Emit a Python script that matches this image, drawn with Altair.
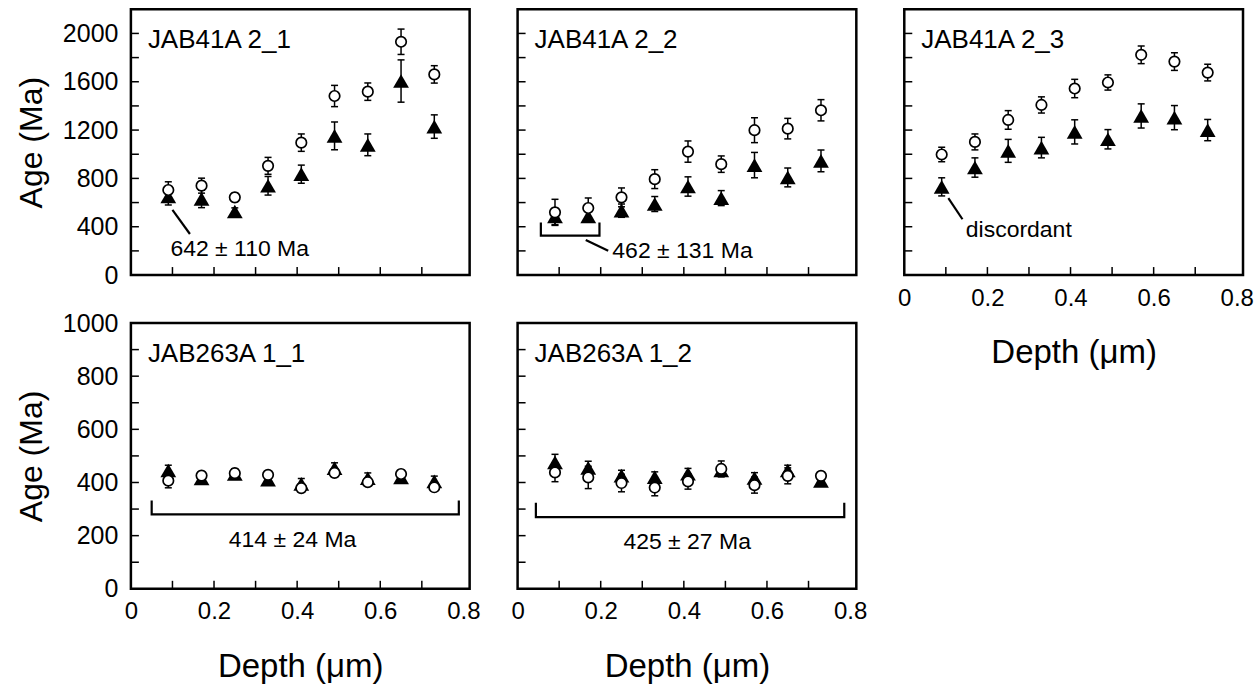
import altair as alt
import pandas as pd

FONT = "Liberation Sans"

# ---------------- data ----------------
depth = [0.09, 0.17, 0.25, 0.33, 0.41, 0.49, 0.57, 0.65, 0.73]

p1_name = "JAB41A 2_1"
p1_circ = [704, 740, 643, 904, 1096, 1482, 1518, 1931, 1661]
p1_circ_err = [68, 62, 35, 70, 72, 88, 72, 105, 72]
p1_tri = [650, 630, 526, 739, 835, 1152, 1078, 1606, 1229]
p1_tri_err = [70, 72, 30, 77, 75, 115, 90, 175, 97]

p2_name = "JAB41A 2_2"
p2_circ = [519, 555, 643, 794, 1022, 918, 1199, 1212, 1364]
p2_circ_err = [108, 83, 78, 78, 88, 68, 103, 85, 88]
p2_tri = [485, 485, 533, 588, 733, 637, 910, 808, 945]
p2_tri_err = [68, 45, 55, 62, 80, 62, 105, 78, 90]

p3_name = "JAB41A 2_3"
p3_circ = [998, 1102, 1284, 1408, 1544, 1594, 1823, 1767, 1676]
p3_circ_err = [60, 66, 77, 67, 76, 63, 73, 73, 69]
p3_tri = [730, 890, 1028, 1055, 1185, 1124, 1317, 1303, 1200]
p3_tri_err = [75, 80, 95, 85, 100, 80, 100, 100, 88]

p4_name = "JAB263A 1_1"
p4_circ = [407, 426, 435, 429, 379, 436, 401, 432, 382]
p4_circ_err = [27, 15, 15, 15, 15, 15, 15, 15, 15]
p4_tri = [445, 415, 432, 411, 395, 454, 416, 419, 404]
p4_tri_err = [20, 20, 20, 20, 20, 20, 20, 20, 20]

p5_name = "JAB263A 1_2"
p5_circ = [438, 419, 398, 381, 404, 451, 390, 425, 425]
p5_circ_err = [35, 42, 33, 31, 29, 30, 30, 30, 15]
p5_tri = [476, 455, 426, 420, 433, 445, 417, 445, 406]
p5_tri_err = [30, 25, 20, 20, 20, 20, 20, 20, 15]

# annotations: leader lines / brackets and labels
p1_line_x = [0.100, 0.142]
p1_line_y = [539, 340]
p1_label = "642 ± 110 Ma"
p1_label_xy = [0.095, 216]
p1_label_align = "left"

p2_line_x = [0.056, 0.056, 0.197, 0.197, None, 0.164, 0.218]
p2_line_y = [436, 326, 326, 436, None, 291, 202]
p2_label = "462 ± 131 Ma"
p2_label_xy = [0.228, 202]
p2_label_align = "left"

p3_line_x = [0.106, 0.140]
p3_line_y = [636, 462]
p3_label = "discordant"
p3_label_xy = [0.148, 371]
p3_label_align = "left"

p4_line_x = [0.050, 0.050, 0.789, 0.789]
p4_line_y = [332, 280, 280, 332]
p4_label = "414 ± 24 Ma"
p4_label_xy = [0.389, 183]
p4_label_align = "center"

p5_line_x = [0.044, 0.044, 0.786, 0.786]
p5_line_y = [324, 270, 270, 324]
p5_label = "425 ± 27 Ma"
p5_label_xy = [0.408, 177]
p5_label_align = "center"

x_minor = [0.1, 0.2, 0.3, 0.4, 0.5, 0.6, 0.7]
x_labels = [0, 0.2, 0.4, 0.6, 0.8]
top_y_minor = [200, 400, 600, 800, 1000, 1200, 1400, 1600, 1800, 2000]
top_y_labels = [0, 400, 800, 1200, 1600, 2000]
bot_y_minor = [100, 200, 300, 400, 500, 600, 700, 800, 900]
bot_y_labels = [0, 200, 400, 600, 800, 1000]

W, H = 339, 266
XDOM = [0, 0.815]


def make_panel(name, circ, circ_err, tri, tri_err, ymax, y_minor, y_labels,
               show_y, show_x, line_x, line_y, label, label_xy, label_align):
    xscale = alt.Scale(domain=XDOM, nice=False, zero=False)
    yscale = alt.Scale(domain=[0, ymax], nice=False, zero=False)
    if show_x:
        xaxis = alt.Axis(values=x_labels, format="~g", ticks=False, tickSize=0,
                         domain=False, grid=False, labelFlush=False,
                         labelFontSize=24, labelFont=FONT, labelColor="black",
                         labelPadding=11, title="Depth (μm)", titleFont=FONT,
                         titleFontSize=33, titleFontWeight="normal",
                         titleColor="black", titlePadding=27)
    else:
        xaxis = None
    if show_y:
        yaxis = alt.Axis(values=y_labels, format="d", ticks=False, tickSize=0,
                         domain=False, grid=False, labelFontSize=25,
                         labelFont=FONT, labelColor="black", labelPadding=13,
                         title="Age (Ma)", titleFont=FONT, titleFontSize=32,
                         titleFontWeight="normal", titleColor="black",
                         titlePadding=14)
    else:
        yaxis = None

    def X(f="x"):
        return alt.X(f"{f}:Q", scale=xscale, axis=xaxis)

    def Y(f="y"):
        return alt.Y(f"{f}:Q", scale=yscale, axis=yaxis)

    pts = pd.DataFrame({
        "x": depth,
        "c": circ, "c_lo": [v - e for v, e in zip(circ, circ_err)],
        "c_hi": [v + e for v, e in zip(circ, circ_err)],
        "t": tri, "t_lo": [v - e for v, e in zip(tri, tri_err)],
        "t_hi": [v + e for v, e in zip(tri, tri_err)],
    })
    caps_t = pd.DataFrame({"x": depth * 2,
                           "y": list(pts["t_lo"]) + list(pts["t_hi"])})
    caps_c = pd.DataFrame({"x": depth * 2,
                           "y": list(pts["c_lo"]) + list(pts["c_hi"])})

    ytick_df = pd.DataFrame({"y": y_minor})
    xtick_df = pd.DataFrame({"x": x_minor})

    layers = []
    layers.append(alt.Chart(ytick_df).mark_rule(color="black", strokeWidth=1.5)
                  .encode(y=Y(), x=alt.value(0), x2=alt.value(8)))
    layers.append(alt.Chart(xtick_df).mark_rule(color="black", strokeWidth=1.5)
                  .encode(x=X(), y=alt.value(H), y2=alt.value(H - 8)))
    # triangle error bars
    layers.append(alt.Chart(pts).mark_rule(color="black", strokeWidth=1.5)
                  .encode(x=X(), y=Y("t_lo"), y2="t_hi:Q"))
    layers.append(alt.Chart(caps_t).mark_tick(orient="horizontal", size=7,
                                              thickness=1.5, color="black",
                                              opacity=1)
                  .encode(x=X(), y=Y()))
    layers.append(alt.Chart(pts).mark_point(shape="triangle-up", filled=True,
                                            color="black", size=250, opacity=1)
                  .encode(x=X(), y=Y("t")))
    # circle error bars
    layers.append(alt.Chart(pts).mark_rule(color="black", strokeWidth=1.5)
                  .encode(x=X(), y=Y("c_lo"), y2="c_hi:Q"))
    layers.append(alt.Chart(caps_c).mark_tick(orient="horizontal", size=7,
                                              thickness=1.5, color="black",
                                              opacity=1)
                  .encode(x=X(), y=Y()))
    layers.append(alt.Chart(pts).mark_circle(fill="white", stroke="black",
                                             strokeWidth=1.7, size=110,
                                             opacity=1)
                  .encode(x=X(), y=Y("c")))
    # annotation lines
    segs, order, lx, ly = [], [], [], []
    seg = 0
    for i, (a, b) in enumerate(zip(line_x, line_y)):
        if a is None:
            seg += 1
            continue
        segs.append(seg)
        order.append(i)
        lx.append(a)
        ly.append(b)
    line_df = pd.DataFrame({"x": lx, "y": ly, "seg": segs, "o": order})
    layers.append(alt.Chart(line_df).mark_line(color="black", strokeWidth=2.2)
                  .encode(x=X(), y=Y(), detail="seg:N", order="o:Q"))
    lab_df = pd.DataFrame({"x": [label_xy[0]], "y": [label_xy[1]],
                           "t": [label]})
    layers.append(alt.Chart(lab_df).mark_text(align=label_align,
                                              baseline="middle",
                                              font=FONT, fontSize=23,
                                              color="black")
                  .encode(x=X(), y=Y(), text="t:N"))
    name_df = pd.DataFrame({"t": [name]})
    layers.append(alt.Chart(name_df).mark_text(align="left", baseline="middle",
                                               font=FONT, fontSize=26,
                                               color="black")
                  .encode(x=alt.value(17), y=alt.value(31), text="t:N"))
    return alt.layer(*layers).properties(width=W, height=H)


p1 = make_panel(p1_name, p1_circ, p1_circ_err, p1_tri, p1_tri_err, 2200,
                top_y_minor, top_y_labels, True, False,
                p1_line_x, p1_line_y, p1_label, p1_label_xy, p1_label_align)
p2 = make_panel(p2_name, p2_circ, p2_circ_err, p2_tri, p2_tri_err, 2200,
                top_y_minor, top_y_labels, False, False,
                p2_line_x, p2_line_y, p2_label, p2_label_xy, p2_label_align)
p3 = make_panel(p3_name, p3_circ, p3_circ_err, p3_tri, p3_tri_err, 2200,
                top_y_minor, top_y_labels, False, True,
                p3_line_x, p3_line_y, p3_label, p3_label_xy, p3_label_align)
p4 = make_panel(p4_name, p4_circ, p4_circ_err, p4_tri, p4_tri_err, 1000,
                bot_y_minor, bot_y_labels, True, True,
                p4_line_x, p4_line_y, p4_label, p4_label_xy, p4_label_align)
p5 = make_panel(p5_name, p5_circ, p5_circ_err, p5_tri, p5_tri_err, 1000,
                bot_y_minor, bot_y_labels, False, True,
                p5_line_x, p5_line_y, p5_label, p5_label_xy, p5_label_align)

chart = alt.concat(p1, p2, p3, p4, p5, columns=3, spacing=48,
                   bounds="flush").properties(
    padding={"left": 14, "top": 7, "right": 5, "bottom": 5},
    background="white",
).configure_view(stroke="black", strokeWidth=2.5)

chart.save("out.html", embed_options={"renderer": "svg", "actions": False})
